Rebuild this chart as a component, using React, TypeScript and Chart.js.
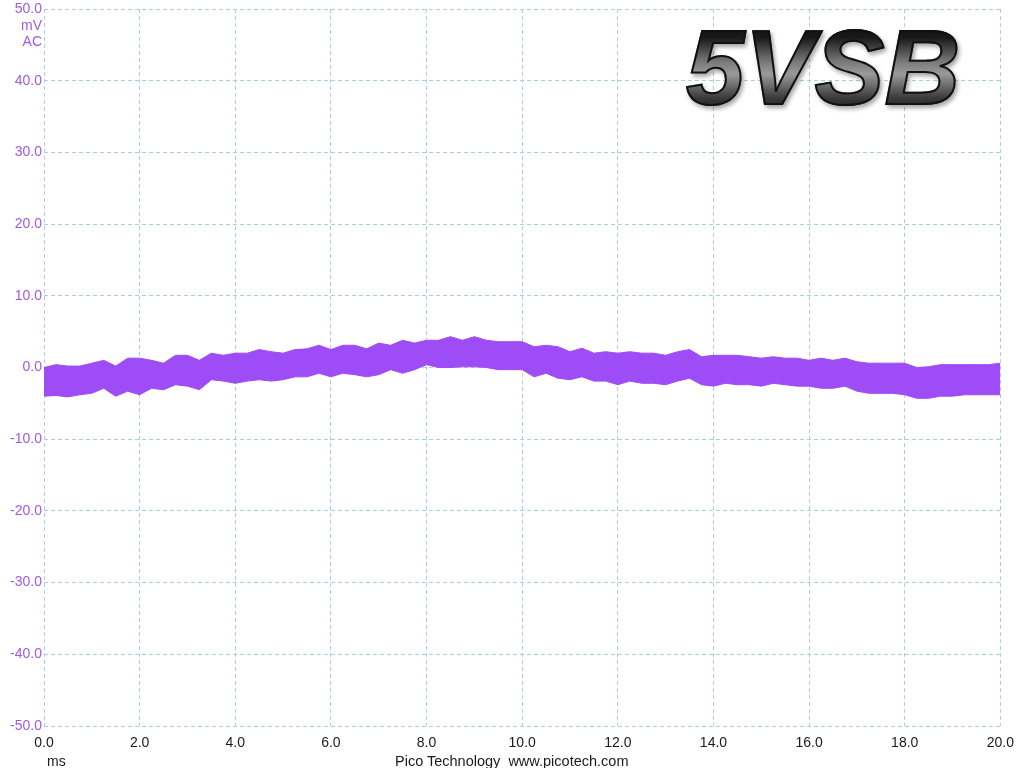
import React, { useEffect, useRef } from "react";
import { Chart, registerables } from "chart.js";

Chart.register(...registerables);

const timesMs = [
  0, 0.25, 0.5, 0.75, 1, 1.25, 1.5, 1.75, 2, 2.25, 2.5, 2.75, 3, 3.25, 3.5, 3.75,
  4, 4.25, 4.5, 4.75, 5, 5.25, 5.5, 5.75, 6, 6.25, 6.5, 6.75, 7, 7.25, 7.5, 7.75,
  8, 8.25, 8.5, 8.75, 9, 9.25, 9.5, 9.75, 10, 10.25, 10.5, 10.75, 11, 11.25, 11.5, 11.75,
  12, 12.25, 12.5, 12.75, 13, 13.25, 13.5, 13.75, 14, 14.25, 14.5, 14.75, 15, 15.25, 15.5, 15.75,
  16, 16.25, 16.5, 16.75, 17, 17.25, 17.5, 17.75, 18, 18.25, 18.5, 18.75, 19, 19.25, 19.5, 19.75, 20,
];

const upperMv = [
  0.0, 0.4, 0.2, 0.2, 0.6, 1.0, 0.2, 1.3, 1.3, 1.0, 0.6, 1.7, 1.7, 1.0, 2.0, 1.7,
  2.0, 2.0, 2.5, 2.2, 2.0, 2.5, 2.6, 3.1, 2.5, 3.1, 3.1, 2.6, 3.4, 3.1, 3.8, 3.4,
  3.8, 3.8, 4.3, 3.8, 4.3, 3.8, 3.6, 3.6, 3.6, 2.9, 3.1, 2.9, 2.2, 2.7, 2.0, 2.2,
  2.0, 2.2, 2.0, 2.0, 1.7, 2.2, 2.5, 1.5, 1.7, 1.7, 1.7, 1.5, 1.3, 1.5, 1.3, 1.3,
  1.0, 1.3, 1.0, 1.3, 0.8, 0.6, 0.6, 0.6, 0.6, 0.0, 0.1, 0.4, 0.4, 0.4, 0.4, 0.4, 0.6,
];

const lowerMv = [
  -4.0, -3.9, -4.1, -3.8, -3.6, -2.9, -4.0, -3.3, -3.8, -2.9, -3.1, -2.4, -2.6, -3.1, -1.7, -1.9,
  -2.2, -1.9, -1.7, -1.9, -1.7, -1.3, -1.3, -0.8, -1.3, -0.8, -1.0, -1.3, -1.0, -0.3, -0.8, -0.3,
  0.4, 0.0, 0.0, 0.1, 0.1, 0.0, -0.3, -0.3, -0.3, -1.3, -0.8, -1.5, -1.7, -1.3, -1.9, -1.9,
  -2.4, -1.9, -2.2, -2.2, -2.4, -1.9, -1.5, -2.4, -2.6, -2.2, -2.4, -2.4, -2.6, -2.2, -2.4, -2.6,
  -2.6, -2.9, -2.9, -2.6, -3.3, -3.6, -3.6, -3.6, -3.8, -4.3, -4.3, -4.0, -4.0, -3.8, -3.8, -3.8, -3.8,
];

const xTickStep = 2;
const yTickStep = 10;
const yMin = -50;
const yMax = 50;
const xMin = 0;
const xMax = 20;

const TRACE = "#9d4cf6";
const YLABEL = "#a059e8";
const GRID = "#a9cfe2";
const FONT = "'Liberation Sans', Arial, sans-serif";

export default function App() {
  const canvasRef = useRef<HTMLCanvasElement | null>(null);

  useEffect(() => {
    const canvas = canvasRef.current;
    if (!canvas) return;
    const upper = timesMs.map((t, i) => ({ x: t, y: upperMv[i] }));
    const lower = timesMs.map((t, i) => ({ x: t, y: lowerMv[i] }));
    const chart = new Chart(canvas, {
      type: "line",
      data: {
        datasets: [
          {
            data: upper,
            borderColor: TRACE,
            backgroundColor: TRACE,
            borderWidth: 1,
            pointRadius: 0,
            fill: 1,
            tension: 0,
          },
          {
            data: lower,
            borderColor: TRACE,
            backgroundColor: TRACE,
            borderWidth: 1,
            pointRadius: 0,
            fill: false,
            tension: 0,
          },
        ],
      },
      options: {
        responsive: false,
        animation: false,
        devicePixelRatio: 1,
        layout: { padding: { left: 0, right: 23, top: 7, bottom: 0 } },
        plugins: {
          legend: { display: false },
          tooltip: { enabled: false },
          title: { display: false },
        },
        scales: {
          x: {
            type: "linear",
            min: xMin,
            max: xMax,
            afterFit: (s: any) => {
              s.height = 42;
            },
            ticks: {
              stepSize: xTickStep,
              color: "#1a1a1a",
              font: { family: FONT, size: 14, lineHeight: 1 },
              padding: 10,
              maxRotation: 0,
              callback: (v: any) => Number(v).toFixed(1),
            },
            grid: {
              color: GRID,
              lineWidth: 1,
              drawTicks: false,
            },
            border: { display: false, dash: [4, 3] },
          },
          y: {
            type: "linear",
            min: yMin,
            max: yMax,
            afterFit: (s: any) => {
              s.width = 44;
            },
            ticks: {
              stepSize: yTickStep,
              color: YLABEL,
              font: { family: FONT, size: 14, lineHeight: 1 },
              padding: 2,
              callback: (v: any) => Number(v).toFixed(1),
            },
            grid: {
              color: GRID,
              lineWidth: 1,
              drawTicks: false,
            },
            border: { display: false, dash: [4, 3] },
          },
        },
      },
    });
    return () => chart.destroy();
  }, []);

  return (
    <div
      style={{
        position: "fixed",
        left: 0,
        top: 0,
        width: 1024,
        height: 768,
        background: "#ffffff",
        overflow: "hidden",
        fontFamily: FONT,
      }}
    >
      <canvas ref={canvasRef} width={1024} height={768} style={{ display: "block" }} />
      <div
        style={{
          position: "absolute",
          right: 1024 - 42,
          top: 17,
          fontSize: 14,
          lineHeight: "16px",
          color: YLABEL,
          textAlign: "right",
        }}
      >
        <div>mV</div>
        <div>AC</div>
      </div>
      <div
        style={{
          position: "absolute",
          left: 47,
          top: 753,
          fontSize: 14,
          lineHeight: "16px",
          color: "#1a1a1a",
        }}
      >
        ms
      </div>
      <div
        style={{
          position: "absolute",
          left: 395,
          top: 753,
          fontSize: 14.5,
          lineHeight: "16px",
          color: "#1a1a1a",
          whiteSpace: "pre",
        }}
      >
        {"Pico Technology  www.picotech.com"}
      </div>
      <div
        style={{
          position: "absolute",
          left: 686,
          top: 8,
          fontSize: 105,
          lineHeight: "120px",
          fontWeight: "bold",
          fontStyle: "italic",
          fontFamily: "'Liberation Sans', Arial, sans-serif",
          background:
            "linear-gradient(to bottom, #000 0%, #1a1a1a 25%, #7a7a7a 45%, #9a9a9a 55%, #3a3a3a 75%, #000 100%)",
          WebkitBackgroundClip: "text",
          backgroundClip: "text",
          color: "transparent",
          WebkitTextStroke: "2px #111",
          filter: "drop-shadow(2px 3px 2px rgba(0,0,0,0.35))",
        }}
      >
        5VSB
      </div>
    </div>
  );
}
